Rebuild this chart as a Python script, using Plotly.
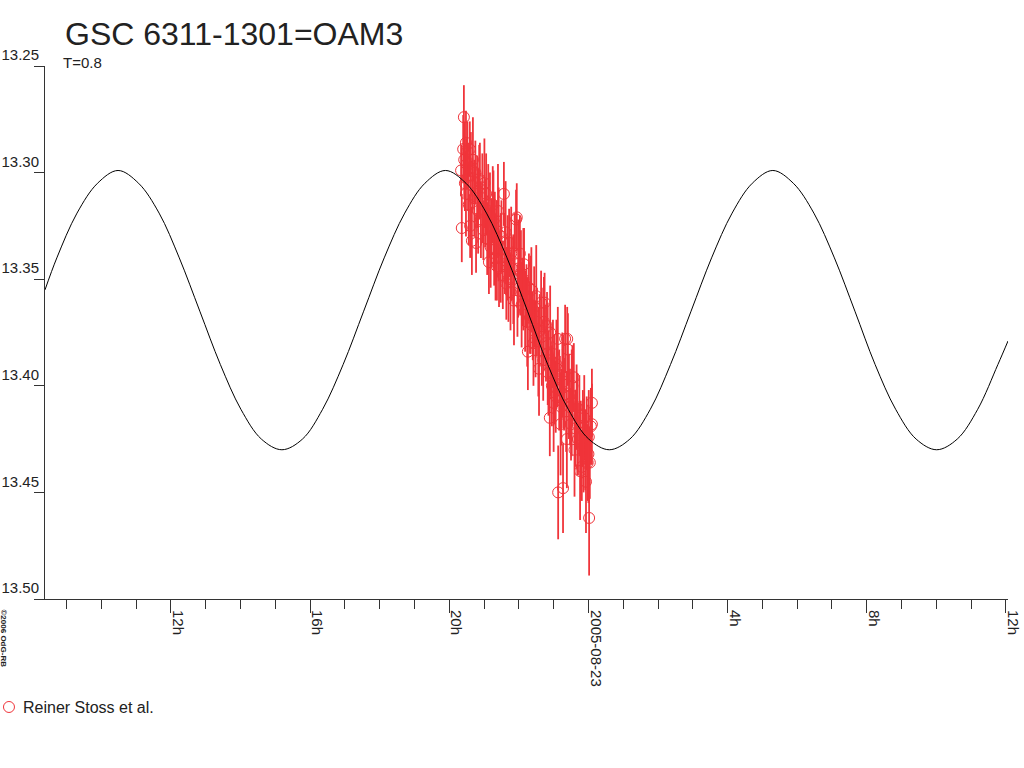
import plotly.graph_objects as go

# observation times, hours since 2005-08-22 00:00 UT
obs_hours = [
    20.34, 20.36, 20.40, 20.42, 20.43, 20.45, 20.48, 20.48, 20.50, 20.52,
    20.54, 20.56, 20.59, 20.60, 20.62, 20.65, 20.66, 20.68, 20.72, 20.75,
    20.77, 20.80, 20.83, 20.86, 20.88, 20.91, 20.95, 20.98, 21.03, 21.06,
    21.09, 21.14, 21.17, 21.21, 21.25, 21.29, 21.31, 21.35, 21.37, 21.42,
    21.43, 21.50, 21.54, 21.57, 21.60, 21.64, 21.68, 21.72, 21.76, 21.80,
    21.84, 21.88, 21.92, 21.94, 21.96, 22.00, 22.03, 22.06, 22.10, 22.15,
    22.18, 22.22, 22.26, 22.29, 22.32, 22.36, 22.40, 22.44, 22.48, 22.52,
    22.56, 22.60, 22.64, 22.70, 22.74, 22.78, 22.81, 22.85, 22.89, 22.92,
    22.95, 22.98, 23.02, 23.06, 23.10, 23.12, 23.13, 23.16, 23.18, 23.22,
    23.25, 23.27, 23.30, 23.33, 23.36, 23.39, 23.41, 23.44, 23.47, 23.50,
    23.54, 23.58, 23.62, 23.66, 23.70, 23.74, 23.78, 23.81, 23.84, 23.88,
    23.91, 23.95, 23.98, 24.01, 24.02, 24.04, 24.07, 24.10, 24.10,
    # points hidden inside the dense middle of the run
    21.01, 21.12, 21.19, 21.27, 21.33, 21.40, 21.48, 21.62, 21.70, 21.78,
    21.86, 21.98, 22.08, 22.13, 22.24, 22.34, 22.42, 22.50, 22.58, 22.66,
    22.72, 22.83, 22.90, 23.00, 23.08, 23.20, 23.28, 23.38, 23.52, 23.60,
    23.68, 23.76, 23.86, 23.93, 24.00,
]
obs_mag = [
    13.299, 13.326, 13.289, 13.274, 13.294, 13.305, 13.286, 13.310, 13.296, 13.290,
    13.302, 13.315, 13.289, 13.325, 13.298, 13.332, 13.306, 13.294, 13.312, 13.300,
    13.333, 13.309, 13.318, 13.303, 13.304, 13.322, 13.312, 13.327, 13.319, 13.310,
    13.331, 13.342, 13.320, 13.328, 13.315, 13.336, 13.324, 13.332, 13.344, 13.329,
    13.345, 13.330, 13.348, 13.310, 13.338, 13.352, 13.340, 13.333, 13.356, 13.345,
    13.350, 13.338, 13.322, 13.321, 13.360, 13.352, 13.338, 13.347, 13.356, 13.343,
    13.365, 13.358, 13.384, 13.354, 13.368, 13.355, 13.372, 13.363, 13.378, 13.370,
    13.384, 13.374, 13.361, 13.388, 13.361, 13.380, 13.372, 13.394, 13.415, 13.388,
    13.400, 13.385, 13.397, 13.405, 13.392, 13.378, 13.450, 13.402, 13.402, 13.410,
    13.395, 13.448, 13.404, 13.378, 13.412, 13.378, 13.383, 13.405, 13.410, 13.418,
    13.400, 13.396, 13.420, 13.410, 13.425, 13.414, 13.428, 13.438, 13.420, 13.415,
    13.430, 13.422, 13.436, 13.424, 13.462, 13.436, 13.419, 13.408, 13.418,
    13.305, 13.318, 13.335, 13.322, 13.340, 13.318, 13.340, 13.328, 13.350, 13.338,
    13.360, 13.345, 13.362, 13.350, 13.370, 13.362, 13.380, 13.358, 13.392, 13.377,
    13.370, 13.385, 13.375, 13.408, 13.390, 13.418, 13.398, 13.425, 13.408, 13.430,
    13.418, 13.440, 13.428, 13.445, 13.432,
]
obs_err = [
    0.012, 0.016, 0.016, 0.015, 0.018, 0.013, 0.015, 0.020, 0.012, 0.014,
    0.016, 0.019, 0.013, 0.015, 0.017, 0.016, 0.013, 0.020, 0.018, 0.015,
    0.014, 0.017, 0.020, 0.016, 0.018, 0.018, 0.021, 0.014, 0.016, 0.019,
    0.017, 0.015, 0.020, 0.016, 0.018, 0.017, 0.015, 0.019, 0.016, 0.022,
    0.018, 0.017, 0.016, 0.015, 0.019, 0.017, 0.020, 0.016, 0.018, 0.015,
    0.021, 0.019, 0.014, 0.016, 0.017, 0.015, 0.018, 0.020, 0.016, 0.017,
    0.019, 0.015, 0.018, 0.016, 0.017, 0.020, 0.016, 0.019, 0.018, 0.016,
    0.021, 0.017, 0.015, 0.019, 0.014, 0.018, 0.016, 0.020, 0.018, 0.017,
    0.019, 0.016, 0.021, 0.017, 0.018, 0.015, 0.022, 0.019, 0.016, 0.018,
    0.020, 0.021, 0.017, 0.016, 0.019, 0.015, 0.017, 0.020, 0.018, 0.017,
    0.019, 0.016, 0.018, 0.020, 0.017, 0.019, 0.021, 0.016, 0.018, 0.020,
    0.019, 0.017, 0.018, 0.022, 0.027, 0.017, 0.018, 0.016, 0.019,
    0.021, 0.022, 0.019, 0.023, 0.020, 0.022, 0.021, 0.024, 0.020, 0.022,
    0.021, 0.023, 0.020, 0.024, 0.021, 0.023, 0.020, 0.024, 0.022, 0.023,
    0.021, 0.024, 0.022, 0.023, 0.021, 0.024, 0.022, 0.023, 0.025, 0.022,
    0.024, 0.023, 0.022, 0.024, 0.023,
]

# model light curve
model_hours = [
    8.38, 8.72, 9.30, 9.89, 10.48, 11.07, 11.66, 12.24, 12.83, 13.42,
    14.01, 14.60, 15.19, 15.78, 16.36, 16.95, 17.54, 18.13, 18.72, 19.30,
    19.89, 20.48, 21.07, 21.66, 22.25, 22.83, 23.42, 24.01, 24.60, 25.19,
    25.78, 26.36, 26.95, 27.54, 28.13, 28.71, 29.30, 29.89, 30.48, 31.07,
    31.66, 32.24, 32.83, 33.42, 34.01, 34.60, 35.19, 35.77, 36.06,
]
model_mag = [
    13.355, 13.340, 13.319, 13.305, 13.299, 13.305, 13.319, 13.340, 13.365, 13.390,
    13.411, 13.425, 13.430, 13.425, 13.411, 13.390, 13.365, 13.340, 13.319, 13.305,
    13.299, 13.305, 13.319, 13.340, 13.365, 13.390, 13.411, 13.425, 13.430, 13.425,
    13.411, 13.390, 13.365, 13.340, 13.319, 13.305, 13.299, 13.305, 13.319, 13.340,
    13.365, 13.390, 13.411, 13.425, 13.430, 13.425, 13.411, 13.390, 13.379,
]

x_tickvals = [12, 16, 20, 24, 28, 32, 36]
x_ticktext = ["12h", "16h", "20h", "2005-08-23", "4h", "8h", "12h"]
y_tickvals = [13.25, 13.30, 13.35, 13.40, 13.45, 13.50]

RED = "#f0343a"
INK = "#222222"
FONT = "Liberation Sans, Arial, sans-serif"

fig = go.Figure()

fig.add_trace(go.Scatter(
    x=obs_hours, y=obs_mag, mode="markers", name="Reiner Stoss et al.",
    marker=dict(symbol="circle-open", size=11, color=RED, line=dict(width=1, color=RED)),
    error_y=dict(type="data", array=obs_err, visible=True, color=RED, thickness=1.8, width=0),
))
fig.add_trace(go.Scatter(
    x=model_hours, y=model_mag, mode="lines", name="model",
    line=dict(color="black", width=1, shape="spline"),
))

fig.update_layout(
    width=1024, height=768,
    margin=dict(l=45, r=16, t=66, b=169),
    paper_bgcolor="white", plot_bgcolor="white",
    showlegend=False,
    font=dict(family=FONT, color=INK),
)
fig.update_xaxes(
    range=[8.38, 36.06], showgrid=False, zeroline=False, automargin=False,
    showline=True, linecolor="#333333", linewidth=1,
    tickmode="array", tickvals=x_tickvals, ticktext=x_ticktext,
    ticks="outside", ticklen=13, tickcolor="#333333",
    tickangle=90, tickfont=dict(size=15, family=FONT, color=INK),
    ticklabelshift=7, ticklabelstandoff=-6,
    minor=dict(dtick=1, tick0=0, ticks="outside", ticklen=9, tickcolor="#333333"),
)
fig.update_yaxes(
    range=[13.50, 13.25], showgrid=False, zeroline=False, automargin=False,
    showline=True, linecolor="#333333", linewidth=1,
    tickmode="array", tickvals=y_tickvals, tickformat=".2f",
    ticks="outside", ticklen=10, tickcolor="#333333",
    ticklabelposition="outside top", ticklabelstandoff=2,
    tickfont=dict(size=15, family=FONT, color=INK),
)

# title and sub-title
fig.add_annotation(text="GSC 6311-1301=OAM3", xref="paper", yref="paper",
                   x=0.019, y=1.06, xanchor="left", yanchor="middle", showarrow=False,
                   font=dict(size=32, family=FONT, color=INK))
fig.add_annotation(text="T=0.8", xref="paper", yref="paper",
                   x=0.017, y=1.006, xanchor="left", yanchor="middle", showarrow=False,
                   font=dict(size=15, family=FONT, color=INK))

# hand-drawn legend entry
fig.add_shape(type="circle", xref="paper", yref="paper",
              xsizemode="pixel", ysizemode="pixel",
              xanchor=-0.0374, yanchor=-0.2026,
              x0=-5.5, x1=5.5, y0=-5.5, y1=5.5,
              line=dict(color=RED, width=1))
fig.add_annotation(text="Reiner Stoss et al.", xref="paper", yref="paper",
                   x=-0.025, y=-0.2036, xanchor="left", yanchor="middle", showarrow=False,
                   font=dict(size=16, family=FONT, color=INK))

# credit line
fig.add_annotation(text="<b>©2006 OdG-RB</b>", xref="paper", yref="paper",
                   x=-0.0431, y=-0.075, xanchor="center", yanchor="middle", showarrow=False,
                   textangle=90, font=dict(size=8, family=FONT, color=INK))

# drop the browser's default page margin so the figure sits at the top-left corner
fig.write_html("out.html", config={"displayModeBar": False},
               post_script="document.body.style.margin = '0';")
